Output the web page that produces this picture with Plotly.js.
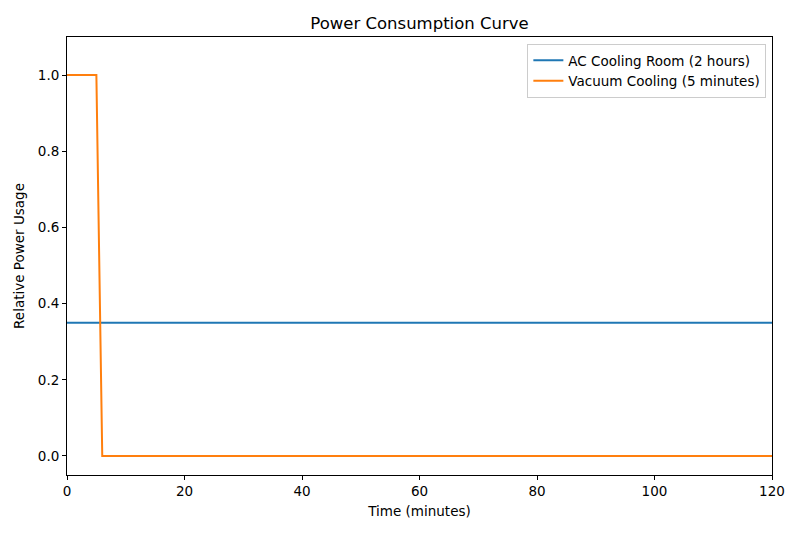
<!DOCTYPE html>
<html>
<head>
<meta charset="utf-8">
<script src="https://cdn.plot.ly/plotly-3.0.1.min.js"></script>
<style>html,body{margin:0;padding:0;background:#fff;}#chart{width:800px;height:533px;}</style>
</head>
<body>
<div id="chart"></div>
<script>
const acTime = [0, 120];
const acPower = [0.35, 0.35];
const vacTime = [0, 5, 6, 120];
const vacPower = [1.0, 1.0, 0.0, 0.0];
const xTicks = [0, 20, 40, 60, 80, 100, 120];
const yTicks = [0.0, 0.2, 0.4, 0.6, 0.8, 1.0];
const yTickText = ["0.0", "0.2", "0.4", "0.6", "0.8", "1.0"];

const font = {family: "DejaVu Sans, sans-serif", size: 13.5, color: "#000"};

const data = [
  {x: acTime, y: acPower, mode: "lines", name: "AC Cooling Room (2 hours)",
   line: {color: "#1f77b4", width: 2}},
  {x: vacTime, y: vacPower, mode: "lines", name: "Vacuum Cooling (5 minutes)",
   line: {color: "#ff7f0e", width: 2}}
];

const axisCommon = {
  showline: true, mirror: true, linecolor: "#000", linewidth: 1,
  ticks: "outside", ticklen: 4, tickwidth: 1, tickcolor: "#000",
  showgrid: false, zeroline: false, tickfont: font
};

const layout = {
  width: 800, height: 533,
  margin: {l: 67, r: 28, t: 37, b: 58},
  paper_bgcolor: "#fff", plot_bgcolor: "#fff",
  font: font,
  title: {text: "Power Consumption Curve", font: {family: font.family, size: 16.5, color: "#000"},
          xref: "paper", x: 0.5, xanchor: "center", y: 1 - 23/533, yanchor: "middle"},
  xaxis: Object.assign({}, axisCommon, {
    range: [0, 120], tickvals: xTicks, ticktext: xTicks.map(String),
    title: {text: "Time (minutes)", font: font, standoff: 8}
  }),
  yaxis: Object.assign({}, axisCommon, {
    range: [-0.05, 1.1], tickvals: yTicks, ticktext: yTickText,
    title: {text: "Relative Power Usage", font: font, standoff: 10}
  }),
  legend: {x: 0.992, xanchor: "right", y: 0.984, yanchor: "top",
           bgcolor: "rgba(255,255,255,0.8)", bordercolor: "#ccc", borderwidth: 1,
           font: font, tracegroupgap: 0, itemwidth: 30}
};

Plotly.newPlot("chart", data, layout, {displayModeBar: false, staticPlot: true});
</script>
</body>
</html>
